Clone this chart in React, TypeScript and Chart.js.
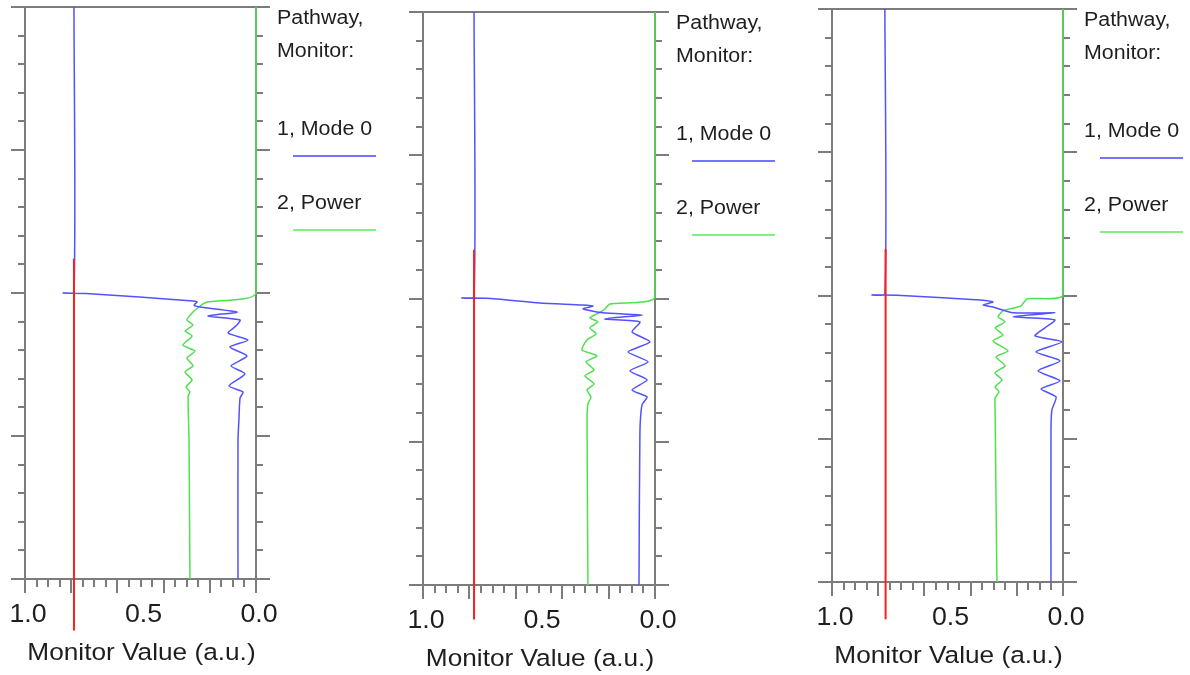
import React, { useEffect, useRef } from "react";
import { Chart, registerables } from "chart.js";

Chart.register(...registerables);

// ---------- data (z = propagation position, 0..40; value = monitor value) ----------
const xTickValues = [1.0, 0.5, 0.0];
const xTickLabels = ["1.0", "0.5", "0.0"];
const xAxisTitle = "Monitor Value (a.u.)";
const legendTitleLines = ["Pathway,", "Monitor:"];
const seriesNames = ["1, Mode 0", "2, Power"];

// Panel 1
const p1ModeZ = [0, 19.93, 20.0, 20.03, 20.56, 20.63, 20.84, 20.98, 21.33, 21.61, 21.89, 22.31, 22.8, 23.29, 23.78, 24.41, 25.1, 25.66, 26.5, 26.92, 27.34, 28.88, 30.28, 40];
const p1ModeV = [0.788, 0.788, 0.835, 0.736, 0.273, 0.255, 0.268, 0.242, 0.082, 0.208, 0.069, 0.087, 0.121, 0.035, 0.113, 0.039, 0.108, 0.048, 0.117, 0.056, 0.069, 0.074, 0.078, 0.078];
const p1PowerZ = [0, 20.0, 20.63, 20.91, 21.4, 21.89, 22.24, 22.66, 23.01, 23.64, 24.06, 24.55, 25.1, 25.52, 26.08, 26.57, 26.92, 27.2, 30.28, 40];
const p1PowerV = [0, 0, 0.212, 0.242, 0.277, 0.299, 0.273, 0.307, 0.277, 0.316, 0.264, 0.299, 0.273, 0.307, 0.277, 0.303, 0.286, 0.294, 0.29, 0.286];
const p1MarkerZ = [17.6, 43.6];
const p1MarkerV = [0.788, 0.788];

// Panel 2
const p2ModeZ = [0, 19.89, 19.96, 19.99, 20.31, 20.45, 20.52, 20.73, 21.0, 21.15, 21.43, 21.63, 22.33, 23.03, 23.73, 24.42, 25.05, 25.68, 26.38, 26.87, 27.42, 29.38, 40];
const p2ModeV = [0.78, 0.78, 0.832, 0.724, 0.496, 0.315, 0.267, 0.31, 0.224, 0.056, 0.216, 0.065, 0.099, 0.022, 0.116, 0.03, 0.108, 0.034, 0.099, 0.034, 0.056, 0.065, 0.069];
const p2PowerZ = [0, 19.89, 20.38, 20.8, 21.07, 21.35, 21.63, 22.05, 22.47, 22.89, 23.59, 24.01, 24.42, 24.98, 25.4, 25.96, 26.38, 26.87, 27.36, 28.47, 40];
const p2PowerV = [0, 0, 0.194, 0.22, 0.25, 0.28, 0.246, 0.28, 0.254, 0.293, 0.315, 0.25, 0.297, 0.263, 0.302, 0.263, 0.293, 0.276, 0.289, 0.293, 0.289];
const p2MarkerZ = [16.6, 42.4];
const p2MarkerV = [0.78, 0.78];

// Panel 3
const p3ModeZ = [0, 19.89, 19.96, 19.99, 20.31, 20.45, 20.66, 20.8, 21.21, 21.21, 21.49, 21.7, 22.26, 22.82, 23.24, 23.94, 24.56, 25.26, 25.96, 26.52, 27.08, 27.98, 29.38, 40];
const p3ModeV = [0.771, 0.771, 0.827, 0.719, 0.359, 0.303, 0.346, 0.303, 0.216, 0.035, 0.216, 0.035, 0.078, 0.121, 0.004, 0.117, 0.013, 0.108, 0.013, 0.095, 0.03, 0.048, 0.052, 0.052];
const p3PowerZ = [0, 19.96, 20.24, 20.73, 21.07, 21.49, 21.84, 22.26, 22.75, 23.17, 23.87, 24.28, 24.91, 25.4, 25.89, 26.38, 26.73, 27.15, 27.98, 40];
const p3PowerV = [0, 0, 0.156, 0.182, 0.26, 0.281, 0.251, 0.294, 0.26, 0.303, 0.238, 0.29, 0.251, 0.294, 0.264, 0.294, 0.277, 0.294, 0.294, 0.286];
const p3MarkerZ = [16.75, 42.6];
const p3MarkerV = [0.768, 0.768];

// ---------- layout & style ----------
const W = 1190;
const H = 675;
const Z_MAX = 40;
const Z_MINOR = 2;
const Z_MAJOR = 10;

const panelAreas = [
  { left: 25, right: 256, top: 7, bottom: 579 },
  { left: 423, right: 655, top: 12, bottom: 585 },
  { left: 832, right: 1063, top: 9, bottom: 582 },
];

const panelData = [
  { modeZ: p1ModeZ, modeV: p1ModeV, powerZ: p1PowerZ, powerV: p1PowerV, markZ: p1MarkerZ, markV: p1MarkerV },
  { modeZ: p2ModeZ, modeV: p2ModeV, powerZ: p2PowerZ, powerV: p2PowerV, markZ: p2MarkerZ, markV: p2MarkerV },
  { modeZ: p3ModeZ, modeV: p3ModeV, powerZ: p3PowerZ, powerV: p3PowerV, markZ: p3MarkerZ, markV: p3MarkerV },
];

const AXIS_COLOR = "#7c7c7c";
const TEXT_COLOR = "#1e1e1e";
const BLUE = "#5252ff";
const GREEN = "#4fe04f";
const RED = "#ff1e1e";
const LEGEND_BLUE = "#7474ff";
const LEGEND_GREEN = "#84ee84";
const FONT = '"Liberation Sans", Arial, Helvetica, sans-serif';
const STRETCH = 1.07;

function toPoints(zs: number[], vs: number[]) {
  return zs.map((z, i) => ({ x: vs[i], y: z }));
}

function drawText(ctx: CanvasRenderingContext2D, text: string, x: number, y: number, size: number, align: CanvasTextAlign) {
  ctx.save();
  ctx.font = `${size}px ${FONT}`;
  ctx.fillStyle = TEXT_COLOR;
  ctx.textAlign = align;
  ctx.textBaseline = "alphabetic";
  ctx.translate(x, y);
  ctx.scale(STRETCH, 1);
  ctx.fillText(text, 0, 0);
  ctx.restore();
}

function seg(ctx: CanvasRenderingContext2D, x1: number, y1: number, x2: number, y2: number) {
  ctx.beginPath();
  ctx.moveTo(x1, y1);
  ctx.lineTo(x2, y2);
  ctx.stroke();
}

const framePlugin = {
  id: "monitorFrame",
  beforeDatasetsDraw(chart: any) {
    const { ctx, chartArea: a, scales } = chart;
    const xs = scales.x;
    const ys = scales.y;
    ctx.save();
    ctx.strokeStyle = AXIS_COLOR;
    ctx.lineWidth = 2;
    seg(ctx, a.left, a.top, a.left, a.bottom);
    seg(ctx, a.right, a.top, a.right, a.bottom);
    for (let z = 0; z <= Z_MAX + 1e-9; z += Z_MINOR) {
      const py = Math.round(ys.getPixelForValue(z));
      const major = Math.abs(z % Z_MAJOR) < 1e-9;
      const len = major ? 14 : 7;
      seg(ctx, a.left - len, py, a.left, py);
      seg(ctx, a.right, py, a.right + len, py);
    }
    seg(ctx, a.left - 14, a.top, a.right + 14, a.top);
    seg(ctx, a.left - 14, a.bottom, a.right + 14, a.bottom);
    for (let i = 0; i <= 20; i++) {
      const px = Math.round(xs.getPixelForValue(i * 0.05));
      const len = i % 4 === 0 ? 14 : 8;
      seg(ctx, px, a.bottom, px, a.bottom + len);
    }
    ctx.restore();
  },
  afterDraw(chart: any) {
    const { ctx, chartArea: a, scales } = chart;
    const xs = scales.x;
    xTickValues.forEach((v, i) => {
      drawText(ctx, xTickLabels[i], xs.getPixelForValue(v) + 3, a.bottom + 43, 25, "center");
    });
    drawText(ctx, xAxisTitle, (a.left + a.right) / 2 + 1, a.bottom + 81, 24.5, "center");
    const lx = a.right + 21;
    drawText(ctx, legendTitleLines[0], lx, a.top + 17, 20, "left");
    drawText(ctx, legendTitleLines[1], lx, a.top + 50, 20, "left");
    drawText(ctx, seriesNames[0], lx, a.top + 127.5, 20, "left");
    drawText(ctx, seriesNames[1], lx, a.top + 202, 20, "left");
    ctx.save();
    ctx.lineWidth = 2;
    ctx.strokeStyle = LEGEND_BLUE;
    seg(ctx, a.right + 37, a.top + 149, a.right + 120, a.top + 149);
    ctx.strokeStyle = LEGEND_GREEN;
    seg(ctx, a.right + 37, a.top + 223, a.right + 120, a.top + 223);
    ctx.restore();
  },
};

function Panel({ index }: { index: number }) {
  const ref = useRef<HTMLCanvasElement>(null);
  useEffect(() => {
    const area = panelAreas[index];
    const d = panelData[index];
    const chart = new Chart(ref.current as HTMLCanvasElement, {
      type: "scatter",
      data: {
        datasets: [
          {
            label: "marker",
            data: toPoints(d.markZ, d.markV),
            showLine: true,
            borderColor: RED,
            borderWidth: 2,
            pointRadius: 0,
            clip: false,
            order: 0,
          },
          {
            label: seriesNames[0],
            data: toPoints(d.modeZ, d.modeV),
            showLine: true,
            borderColor: BLUE,
            borderWidth: 1.5,
            pointRadius: 0,
            tension: 0.2,
            clip: 3,
            order: 1,
          },
          {
            label: seriesNames[1],
            data: toPoints(d.powerZ, d.powerV),
            showLine: true,
            borderColor: GREEN,
            borderWidth: 1.5,
            pointRadius: 0,
            tension: 0.2,
            clip: 3,
            order: 2,
          },
        ],
      } as any,
      options: {
        animation: false,
        responsive: false,
        devicePixelRatio: 1,
        events: [],
        layout: {
          padding: {
            left: area.left,
            top: area.top,
            right: W - area.right,
            bottom: H - area.bottom,
          },
        },
        plugins: {
          legend: { display: false },
          tooltip: { enabled: false },
          title: { display: false },
        },
        scales: {
          x: { type: "linear", min: 0, max: 1, reverse: true, display: false },
          y: { type: "linear", min: 0, max: Z_MAX, reverse: true, display: false },
        },
      } as any,
      plugins: [framePlugin],
    });
    return () => chart.destroy();
  }, [index]);
  return (
    <canvas
      ref={ref}
      width={W}
      height={H}
      style={{ position: "absolute", left: 0, top: 0, width: W, height: H, pointerEvents: "none" }}
    />
  );
}

export default function App() {
  return (
    <div style={{ position: "fixed", left: 0, top: 0, width: W, height: H, background: "#ffffff", overflow: "hidden" }}>
      {panelAreas.map((_, i) => (
        <Panel key={i} index={i} />
      ))}
    </div>
  );
}
